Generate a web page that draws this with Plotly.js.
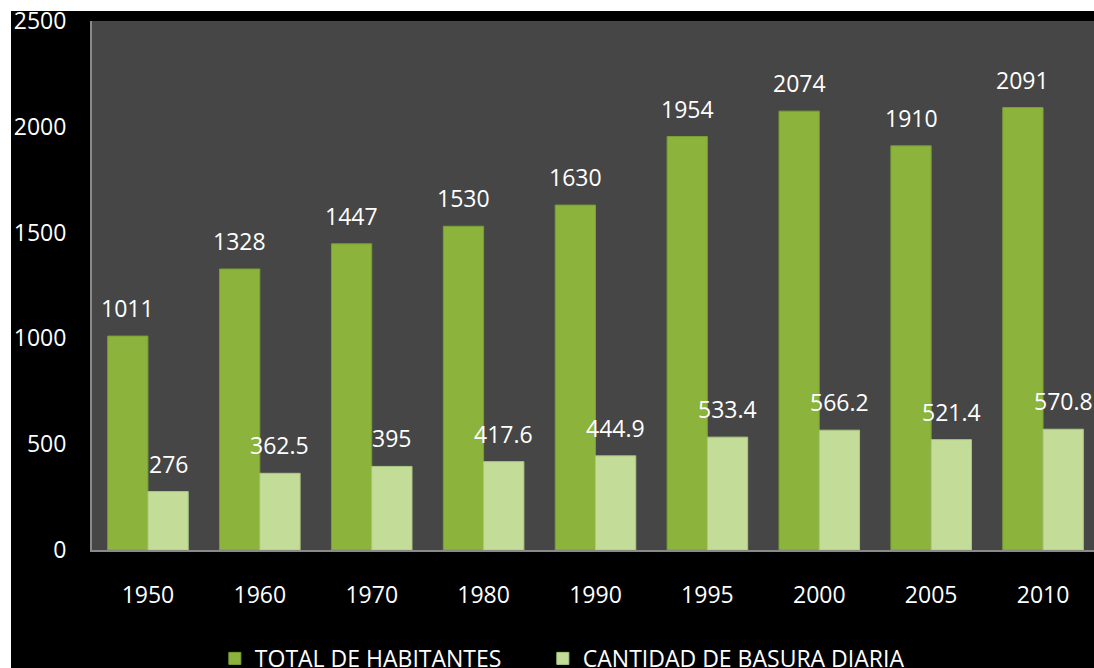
<!DOCTYPE html>
<html>
<head>
<meta charset="utf-8">
<script src="https://cdn.plot.ly/plotly-3.0.1.min.js"></script>
<style>
  html, body { margin: 0; padding: 0; background: #ffffff; width: 1094px; height: 668px; overflow: hidden; }
  #chart { position: absolute; left: 11px; top: 11px; width: 1100px; height: 680px; }
</style>
</head>
<body>
<div id="chart"></div>
<script>
const years = ['1950', '1960', '1970', '1980', '1990', '1995', '2000', '2005', '2010'];
const habitantes = [1011, 1328, 1447, 1530, 1630, 1954, 2074, 1910, 2091];
const basura = [276, 362.5, 395, 417.6, 444.9, 533.4, 566.2, 521.4, 570.8];
const habitantesLabels = ['1011', '1328', '1447', '1530', '1630', '1954', '2074', '1910', '2091'];
const basuraLabels = ['276', '362.5', '395', '417.6', '444.9', '533.4', '566.2', '521.4', '570.8'];
const seriesNames = ['TOTAL DE HABITANTES', 'CANTIDAD DE BASURA DIARIA'];
const yTicks = [0, 500, 1000, 1500, 2000, 2500];

const FONT = 'Open Sans, Lato, sans-serif';
const BARGAP = 0.28;
const half = (1 - BARGAP) / 4;

const traces = [
  {
    type: 'bar', name: seriesNames[0], x: years, y: habitantes,
    marker: { color: '#8cb43c', line: { color: '#7a9f33', width: 1 } },
    legend: 'legend',
    hoverinfo: 'skip'
  },
  {
    type: 'bar', name: seriesNames[1], x: years, y: basura,
    marker: { color: '#c3dd99', line: { color: '#aac985', width: 1 } },
    legend: 'legend2',
    hoverinfo: 'skip'
  }
];

const annotations = [];
years.forEach((yr, i) => {
  annotations.push({ x: i - half, y: habitantes[i], xref: 'x', yref: 'y', text: habitantesLabels[i],
    showarrow: false, yanchor: 'bottom', xanchor: 'center', yshift: 10,
    font: { family: FONT, size: 23, color: '#ffffff' } });
  annotations.push({ x: i + half, y: basura[i], xref: 'x', yref: 'y', text: basuraLabels[i],
    showarrow: false, yanchor: 'bottom', xanchor: 'center', yshift: 10,
    font: { family: FONT, size: 23, color: '#ffffff' } });
});

const legendBase = {
  orientation: 'h',
  xanchor: 'left',
  y: -0.205, yanchor: 'middle',
  bgcolor: 'rgba(0,0,0,0)',
  font: { family: FONT, size: 23, color: '#ffffff' }
};

const layout = {
  width: 1100, height: 680,
  paper_bgcolor: '#000000',
  plot_bgcolor: '#464646',
  margin: { l: 81, r: 12, t: 10, b: 141, pad: 0 },
  barmode: 'group',
  bargap: BARGAP,
  bargroupgap: 0,
  font: { family: FONT, size: 23, color: '#ffffff' },
  xaxis: {
    type: 'category',
    showgrid: false, zeroline: false,
    showline: true, linecolor: '#8a8a8a', linewidth: 2,
    ticks: 'outside', ticklen: 23, tickcolor: 'rgba(0,0,0,0)',
    tickfont: { family: FONT, size: 23, color: '#ffffff' },
    fixedrange: true
  },
  yaxis: {
    range: [0, 2500],
    tickvals: yTicks,
    ticktext: yTicks.map(String),
    ticklabeloverflow: 'allow',
    showgrid: false, zeroline: false,
    showline: true, linecolor: '#8a8a8a', linewidth: 2,
    ticks: 'outside', ticklen: 19, tickcolor: 'rgba(0,0,0,0)',
    tickfont: { family: FONT, size: 23, color: '#ffffff' },
    fixedrange: true
  },
  showlegend: true,
  legend: Object.assign({}, legendBase, { x: 0.122 }),
  legend2: Object.assign({}, legendBase, { x: 0.4477 }),
  annotations: annotations
};

Plotly.newPlot('chart', traces, layout, { displayModeBar: false, staticPlot: true });
</script>
</body>
</html>
